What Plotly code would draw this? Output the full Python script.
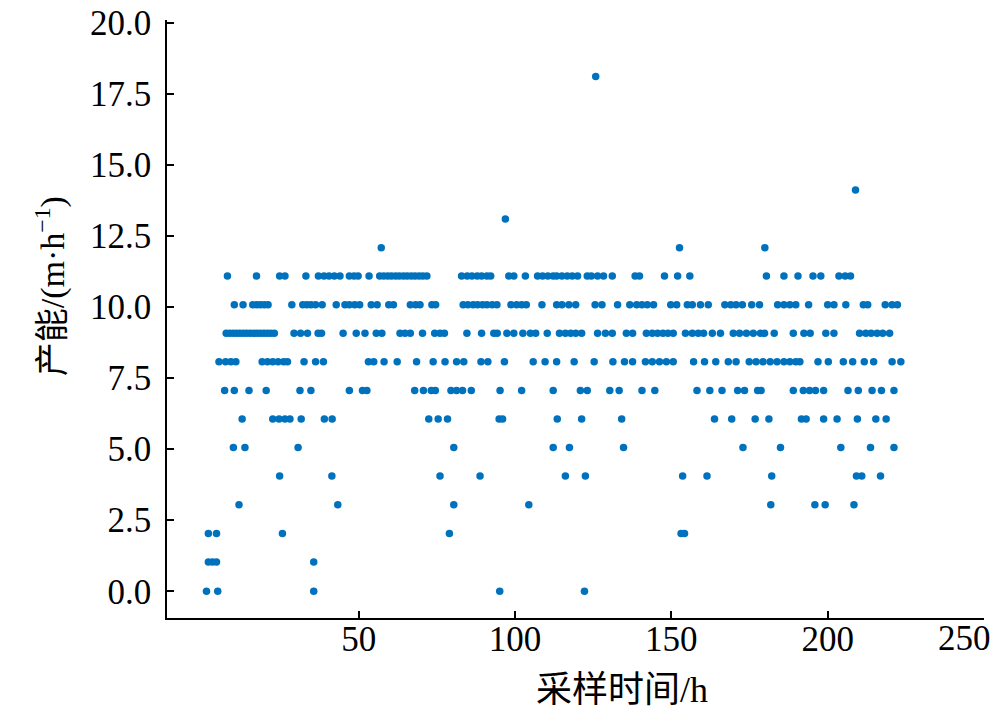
import plotly.graph_objects as go

# Sampling times (h) of the points, grouped by capacity level (m/h)
t_cap_0 = [1.3, 4.9, 35.6, 95.1, 122.2]
t_cap_1 = [1.9, 3.2, 4.5, 35.6]
t_cap_2 = [1.9, 4.5, 25.6, 79.0, 153.1, 154.2]
t_cap_3 = [11.7, 43.3, 80.4, 104.4, 181.8, 195.9, 199.2, 208.4]
t_cap_4 = [24.7, 41.4, 76.0, 88.8, 116.1, 122.5, 153.6, 161.4, 182.1, 209.2, 210.9, 216.9]
t_cap_5 = [9.9, 13.6, 30.6, 80.4, 112.2, 117.4, 134.7, 172.9, 184.9, 204.2, 213.7, 221.2]
t_cap_6 = [12.7, 22.5, 24.5, 26.4, 28.0, 31.6, 39.0, 41.5, 72.4, 75.4, 78.4, 94.9, 96.0,
           113.5, 121.3, 134.1, 163.8, 169.3, 176.8, 181.2, 191.6, 193.1, 198.7, 203.0,
           209.5, 215.4, 218.7]
t_cap_7 = [7.1, 10.2, 14.9, 20.4, 31.2, 34.7, 47.0, 51.2, 52.6, 67.9, 70.7, 73.2, 74.5,
           79.5, 81.3, 83.2, 86.0, 95.2, 102.1, 112.2, 120.9, 123.1, 130.3, 133.3, 140.6,
           144.7, 158.2, 162.3, 166.2, 171.2, 173.4, 177.6, 178.7, 189.0, 192.2, 194.2,
           196.1, 198.7, 206.5, 209.8, 214.2, 217.2, 221.2]
t_cap_8 = [5.3, 7.4, 9.1, 10.7, 19.1, 20.8, 22.5, 24.2, 26.0, 27.2, 32.5, 36.2, 38.7,
           53.1, 54.8, 58.1, 62.3, 68.5, 73.8, 77.6, 81.3, 83.6, 89.1, 91.3, 96.6, 105.8,
           109.6, 113.3, 118.9, 125.3, 131.3, 135.0, 137.6, 141.7, 143.9, 146.2, 148.4,
           150.6, 157.1, 160.6, 164.2, 168.2, 170.7, 174.9, 177.1, 179.3, 181.6, 183.8,
           186.0, 187.9, 189.8, 191.1, 196.9, 200.2, 205.0, 208.0, 211.7, 214.7, 220.6,
           223.4]
t_cap_9 = [7.6, 8.7, 9.8, 10.9, 12.0, 13.1, 14.2, 15.3, 16.4, 17.5, 18.6, 19.7, 20.8,
           21.9, 23.0, 29.3, 31.4, 33.6, 37.0, 38.1, 45.0, 49.2, 52.0, 55.6, 57.4, 63.2,
           64.8, 66.5, 70.4, 74.3, 76.0, 77.4, 84.6, 89.3, 93.2, 94.3, 97.4, 99.6, 102.5,
           104.9, 106.6, 110.3, 114.2, 116.1, 117.8, 119.4, 121.3, 126.4, 128.9, 131.1,
           135.6, 137.6, 142.0, 143.9, 145.6, 147.3, 148.9, 150.6, 154.5, 156.7, 158.6,
           160.3, 163.1, 165.7, 169.8, 171.8, 174.0, 176.2, 178.5, 179.8, 182.9, 189.0,
           192.4, 194.4, 199.4, 202.0, 210.2, 212.2, 213.9, 215.8, 217.6, 219.8]
t_cap_10 = [10.2, 13.0, 16.1, 17.4, 18.6, 19.8, 21.0, 28.6, 32.1, 33.4, 34.7, 36.2, 38.3,
            42.8, 45.6, 47.0, 48.7, 50.3, 54.0, 55.9, 59.6, 61.1, 66.5, 68.2, 69.6, 73.4,
            74.6, 83.4, 84.9, 86.6, 88.0, 89.6, 91.0, 92.7, 94.2, 98.7, 100.5, 102.1,
            103.6, 108.6, 113.3, 115.0, 117.2, 119.4, 125.6, 127.8, 132.8, 136.7, 138.9,
            140.6, 142.3, 144.3, 149.8, 151.7, 155.1, 156.7, 159.3, 161.8, 167.1, 169.0,
            170.7, 172.7, 175.7, 178.2, 184.0, 186.0, 187.9, 189.8, 193.9, 200.0, 202.0,
            205.8, 211.4, 212.8, 218.4, 220.6, 222.3]
t_cap_11 = [8.0, 17.3, 24.7, 26.4, 33.1, 37.1, 38.9, 40.5, 42.2, 44.0, 47.0, 48.5, 49.8,
            53.3, 56.7, 58.0, 59.3, 60.5, 61.8, 63.0, 64.3, 65.5, 66.8, 68.0, 69.3, 70.5,
            71.8, 82.9, 84.7, 86.2, 87.9, 89.3, 91.0, 92.2, 98.0, 99.6, 103.3, 107.2,
            108.8, 110.5, 112.2, 113.3, 115.0, 116.7, 118.3, 120.0, 123.1, 124.4, 126.4,
            128.3, 131.1, 138.4, 139.8, 147.8, 152.0, 155.9, 180.4, 186.0, 190.5, 195.3,
            197.8, 203.6, 205.6, 207.3]
t_cap_12 = [57.2, 152.6, 179.9]
t_cap_13 = [96.9]
t_cap_14 = [208.9]
t_cap_18 = [125.8]

# capacity value (m/h) of each level
capacity_levels = [0.0, 1.03, 2.03, 3.04, 4.05, 5.06, 6.06, 7.06, 8.07, 9.07, 10.08,
                   11.09, 12.08, 13.09, 14.11, 18.1]
times_by_level = [t_cap_0, t_cap_1, t_cap_2, t_cap_3, t_cap_4, t_cap_5, t_cap_6, t_cap_7,
                  t_cap_8, t_cap_9, t_cap_10, t_cap_11, t_cap_12, t_cap_13, t_cap_14,
                  t_cap_18]

x_tick_vals = [50, 100, 150, 200, 250]
y_tick_vals = [0, 2.5, 5, 7.5, 10, 12.5, 15, 17.5, 20]

xs, ys = [], []
for lvl, ts in zip(capacity_levels, times_by_level):
    xs.extend(ts)
    ys.extend([lvl] * len(ts))

fig = go.Figure()
fig.add_trace(go.Scatter(
    x=xs, y=ys, mode="markers",
    marker=dict(size=7.5, color="#0072BD", line=dict(width=0)),
    showlegend=False, hoverinfo="x+y",
))

serif = "Liberation Serif, Times New Roman, serif"
tick_font = dict(family=serif, size=35, color="black")
title_font_family = "Liberation Serif, Noto Sans CJK SC, serif"

# last x tick label sits flush with the axis end, as in the reference
x_tick_text = [str(v) if v != x_tick_vals[-1] else "" for v in x_tick_vals]

fig.update_layout(
    width=1000, height=720,
    margin=dict(l=159, r=24, t=12, b=110, autoexpand=False),
    paper_bgcolor="white", plot_bgcolor="white",
    xaxis=dict(
        range=[-11.33, 250], tickvals=x_tick_vals, ticktext=x_tick_text,
        showline=True, linecolor="black", linewidth=1.6, mirror=False,
        ticks="inside", ticklen=7, tickwidth=1.5, tickcolor="black",
        showgrid=False, zeroline=False, tickfont=tick_font, automargin=False,
        ticklabelstandoff=-11, ticklabeloverflow="allow",
    ),
    yaxis=dict(
        range=[-0.94, 20.09], tickvals=y_tick_vals,
        ticktext=[f"{v:.1f}" for v in y_tick_vals],
        showline=True, linecolor="black", linewidth=1.6, mirror=False,
        ticks="inside", ticklen=7, tickwidth=1.5, tickcolor="black",
        showgrid=False, zeroline=False, tickfont=tick_font, automargin=False,
        ticklabelstandoff=7, ticklabeloverflow="allow",
    ),
    annotations=[
        dict(text=str(x_tick_vals[-1]), xref="x", yref="paper", x=x_tick_vals[-1], y=0,
             xanchor="right", yanchor="top", xshift=9, yshift=1, showarrow=False,
             font=tick_font),
        dict(text="采样时间/h", xref="paper", yref="paper", x=0.557, y=-0.12,
             xanchor="center", yanchor="middle", showarrow=False,
             font=dict(family=title_font_family, size=36, color="black")),
        dict(text="产能/(m·h<sup>−1</sup>)", xref="paper", yref="paper", x=-0.143, y=0.555,
             xanchor="center", yanchor="middle", showarrow=False, textangle=-90,
             font=dict(family=title_font_family, size=34, color="black")),
    ],
)

fig.write_html("out.html")
